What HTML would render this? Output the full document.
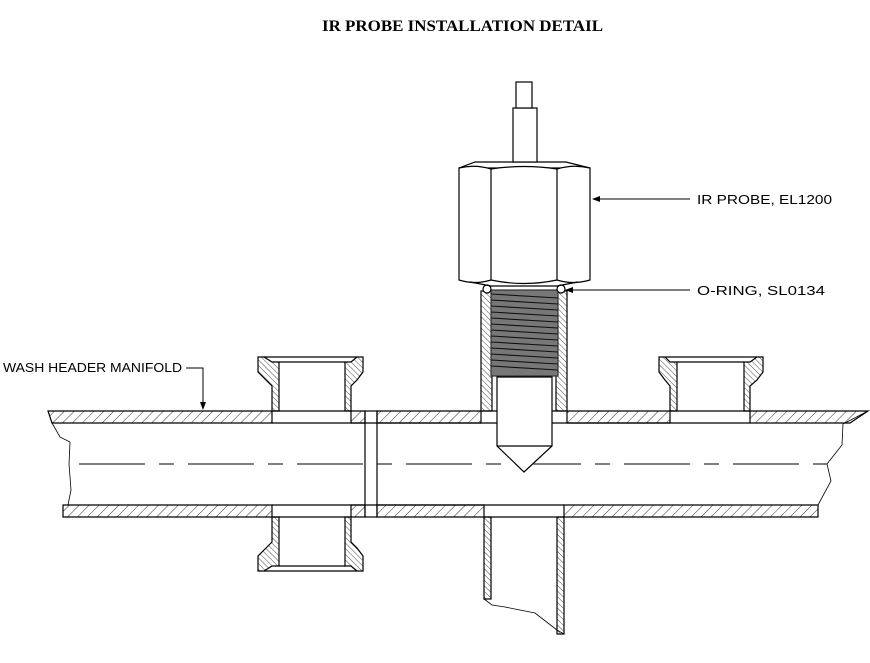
<!DOCTYPE html>
<html><head><meta charset="utf-8"><style>
html,body{margin:0;padding:0;background:#fff;}
svg{display:block;}
</style></head><body>
<svg width="870" height="663" viewBox="0 0 870 663" xmlns="http://www.w3.org/2000/svg">
<defs>
<pattern id="h1" patternUnits="userSpaceOnUse" width="7" height="7" patternTransform="rotate(45)">
<line x1="0" y1="0" x2="0" y2="7" stroke="#000" stroke-width="0.8"/>
</pattern>
<pattern id="h2" patternUnits="userSpaceOnUse" width="4" height="4" patternTransform="rotate(-45)">
<line x1="0" y1="0" x2="0" y2="4" stroke="#000" stroke-width="0.7"/>
</pattern>
<marker id="ar" markerWidth="8" markerHeight="6" refX="7" refY="3" orient="auto" markerUnits="userSpaceOnUse">
<path d="M0,0 L8,3 L0,6 z" fill="#000"/>
</marker>
</defs>
<text x="322" y="31" textLength="281" lengthAdjust="spacingAndGlyphs" font-family="Liberation Serif,serif" font-weight="bold" font-size="16">IR PROBE INSTALLATION DETAIL</text>

<g stroke="#000" stroke-width="1.2" fill="none">
<path d="M48,411 H272 V423 H52 Z" fill="url(#h1)"/>
<path d="M351,411 H365 V423 H351 Z" fill="url(#h1)"/>
<path d="M377,411 H481 V423 H377 Z" fill="url(#h1)"/>
<path d="M567,411 H670 V423 H567 Z" fill="url(#h1)"/>
<path d="M750,411 H868 L850,423 H750 Z" fill="url(#h1)"/>
<line x1="272" y1="423" x2="750" y2="423"/>
<line x1="272" y1="411" x2="351" y2="411"/>
<line x1="670" y1="411" x2="750" y2="411"/>
<line x1="481" y1="411" x2="567" y2="411"/>
<path d="M63,505 H272 V517 H63 Z" fill="url(#h1)"/>
<path d="M351,505 H365 V517 H351 Z" fill="url(#h1)"/>
<path d="M377,505 H484 V517 H377 Z" fill="url(#h1)"/>
<path d="M564,505 H818 V517 H564 Z" fill="url(#h1)"/>
<line x1="272" y1="505" x2="564" y2="505"/>
<line x1="272" y1="517" x2="351" y2="517"/>
<line x1="484" y1="517" x2="564" y2="517"/>
<path d="M52,423 L60,437 L70,442 L69,464 L71,490 L68,505" stroke-width="0.8"/>
<path d="M868,411 L843,424 L842,445 L827,464 L831,481 L818,505" stroke-width="0.8"/>
<rect x="365" y="411" width="12" height="106"/>
<line x1="69" y1="464" x2="827" y2="464" stroke-width="1" stroke-dasharray="66,14,15,14" stroke-dashoffset="-10"/>

<path d="M258,357 L264,357 L272,362 L279,362 L279,411 L272,411 L272,386 L266,380 L258,372 Z" fill="url(#h2)"/>
<path d="M363,357 L357,357 L351,362 L345,362 L345,411 L351,411 L351,386 L357,380 L363,372 Z" fill="url(#h2)"/>
<line x1="264" y1="357" x2="357" y2="357"/>
<line x1="279" y1="362" x2="345" y2="362"/>
<path d="M258,571 L264,571 L272,566 L279,566 L279,517 L272,517 L272,542 L266,548 L258,556 Z" fill="url(#h2)"/>
<path d="M363,571 L357,571 L351,566 L345,566 L345,517 L351,517 L351,542 L357,548 L363,556 Z" fill="url(#h2)"/>
<line x1="264" y1="571" x2="357" y2="571"/>
<line x1="279" y1="566" x2="345" y2="566"/>
<path d="M659,357 L665,357 L670,362 L677,362 L677,411 L670,411 L670,386 L665,380 L659,372 Z" fill="url(#h2)"/>
<path d="M763,357 L757,357 L750,362 L744,362 L744,411 L750,411 L750,386 L757,380 L763,372 Z" fill="url(#h2)"/>
<line x1="665" y1="357" x2="757" y2="357"/>
<line x1="677" y1="362" x2="744" y2="362"/>

<rect x="484" y="517" width="7" height="82" fill="url(#h2)"/>
<rect x="557" y="517" width="7" height="117" fill="url(#h2)"/>
<path d="M484,599 L492,605 L505,607 L535,613 L557,630 L564,634" stroke-width="0.8"/>

<rect x="481" y="291" width="11" height="120" fill="url(#h2)"/>
<rect x="556" y="291" width="11" height="120" fill="url(#h2)"/>
<rect x="491" y="290" width="67" height="86" fill="#777" stroke="#333"/>
<g stroke="#111" stroke-width="1.1">
<path d="M491,294 L558,298 M491,300 L558,304 M491,306 L558,310 M491,312 L558,316 M491,318 L558,322 M491,324 L558,328 M491,330 L558,334 M491,336 L558,340 M491,342 L558,346 M491,348 L558,352 M491,354 L558,358 M491,360 L558,364 M491,366 L558,370"/>
</g>
<path d="M497,377 H552 V446 L524,472 L497,446 Z" fill="#fff"/>
<line x1="497" y1="446" x2="552" y2="446"/>
<circle cx="487" cy="289" r="4" fill="#fff"/>
<circle cx="561" cy="289" r="4" fill="#fff"/>
<path d="M475,162 H566 L590,168 H459 Z" fill="#fff"/>
<path d="M459,168 Q475,164 491,169 Q524,164 557,169 Q573,164 590,168 V280 Q573,285 557,280 Q524,287 491,280 Q475,285 459,280 Z" fill="#fff"/>
<line x1="491" y1="169" x2="491" y2="280"/>
<line x1="557" y1="169" x2="557" y2="280"/>
<path d="M470,282 L491,286 L557,286 L578,282"/>
<rect x="513" y="108" width="24" height="54" fill="#fff"/>
<rect x="516" y="82" width="16" height="26" fill="#fff"/>

<line x1="690" y1="199" x2="593" y2="199" stroke-width="1" marker-end="url(#ar)"/>
<line x1="690" y1="290" x2="566" y2="290" stroke-width="1" marker-end="url(#ar)"/>
<path d="M186,368 H203 V409" stroke-width="1" marker-end="url(#ar)"/>
</g>
<g font-family="Liberation Sans,sans-serif" font-size="13" fill="#000">
<text x="697" y="204" textLength="135" lengthAdjust="spacingAndGlyphs">IR PROBE, EL1200</text>
<text x="697" y="295" textLength="128" lengthAdjust="spacingAndGlyphs">O-RING, SL0134</text>
<text x="3" y="372" textLength="179" lengthAdjust="spacingAndGlyphs">WASH HEADER MANIFOLD</text>
</g>
</svg>
</body></html>
